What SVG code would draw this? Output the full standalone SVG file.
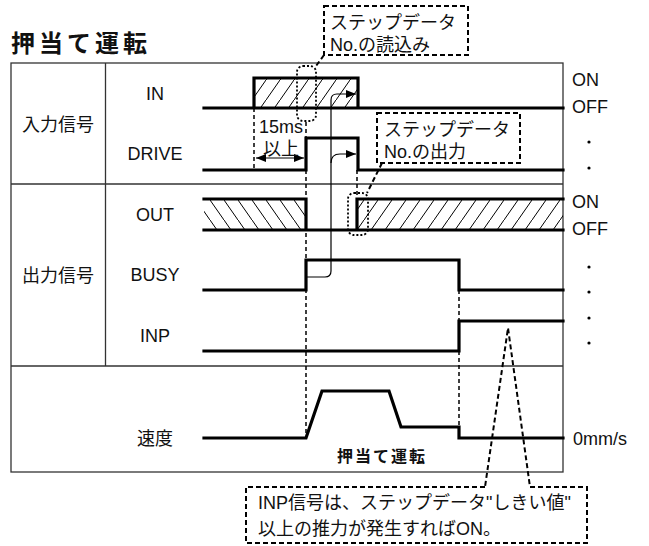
<svg xmlns="http://www.w3.org/2000/svg" width="649" height="546" viewBox="0 0 649 546">
<style>
text{font-family:"Liberation Sans","Noto Sans CJK JP",sans-serif;font-size:18px;fill:#111}
.c{text-anchor:middle}
.frame{fill:none;stroke:#333;stroke-width:1.3}
.sig{fill:none;stroke:#000;stroke-width:3.2;stroke-linejoin:miter;stroke-linecap:square}
.dash{fill:none;stroke:#000;stroke-width:1.5;stroke-dasharray:4 3}
.dot{fill:none;stroke:#000;stroke-width:1.8;stroke-dasharray:2 2}
.box{fill:none;stroke:#000;stroke-width:2;stroke-dasharray:5 3}
.thin{fill:none;stroke:#000;stroke-width:1.2}
</style>
<defs>
<pattern id="hf" patternUnits="userSpaceOnUse" width="14" height="20"><path d="M-7,30 L21,-10" stroke="#000" stroke-width="1"/></pattern>
<pattern id="hb" patternUnits="userSpaceOnUse" width="14" height="20"><path d="M-7,-10 L21,30" stroke="#000" stroke-width="1"/></pattern>
<marker id="ah" viewBox="0 0 10 8" refX="10" refY="4" markerWidth="10" markerHeight="8" markerUnits="userSpaceOnUse" orient="auto"><path d="M0,0 L10,4 L0,8 Z" fill="#000"/></marker>
<marker id="ahs" viewBox="0 0 10 8" refX="0" refY="4" markerWidth="10" markerHeight="8" markerUnits="userSpaceOnUse" orient="auto"><path d="M10,0 L0,4 L10,8 Z" fill="#000"/></marker>
</defs>
<rect width="649" height="546" fill="#fff"/>
<text x="11" y="52" style="font-size:24px;font-weight:bold;letter-spacing:4px">押当て運転</text>
<g id="frame">
<rect class="frame" x="11" y="63" width="552" height="409"/>
<line class="frame" x1="105.5" y1="63" x2="105.5" y2="366"/>
<line class="frame" x1="11" y1="184" x2="563" y2="184"/>
<line class="frame" x1="11" y1="366" x2="563" y2="366"/>
</g>
<g id="row-labels">
<text x="58" y="131" class="c">入力信号</text>
<text x="58" y="282" class="c">出力信号</text>
<text x="155" y="100" class="c">IN</text>
<text x="155" y="160" class="c">DRIVE</text>
<text x="155" y="221" class="c">OUT</text>
<text x="155" y="281" class="c">BUSY</text>
<text x="155" y="342" class="c">INP</text>
<text x="155" y="445" class="c">速度</text>
</g>
<g id="right-labels">
<text x="572" y="86">ON</text>
<text x="572" y="113">OFF</text>
<text x="572" y="208">ON</text>
<text x="572" y="235">OFF</text>
<text x="573" y="445">0mm/s</text>
<circle cx="589" cy="142" r="1.6"/>
<circle cx="589" cy="168" r="1.6"/>
<circle cx="589" cy="267" r="1.6"/>
<circle cx="589" cy="292" r="1.6"/>
<circle cx="589" cy="318" r="1.6"/>
<circle cx="589" cy="343" r="1.6"/>
</g>
<g id="sig-IN">
<rect x="254" y="78" width="104" height="30" fill="url(#hf)"/>
<path class="sig" d="M204,108 H563 M254,108 V78 H358 V108"/>
</g>
<g id="sig-DRIVE">
<path class="sig" d="M204,170 H306 V138 H358 V170 H563"/>
</g>
<g id="sig-OUT">
<rect x="204" y="199" width="102" height="31" fill="url(#hb)"/>
<rect x="357" y="199" width="206" height="31" fill="url(#hf)"/>
<path class="sig" d="M204,230 H563 M204,199 H306 V230 M357,230 V199 H563"/>
</g>
<g id="sig-BUSY">
<path class="sig" d="M204,290 H306 V260 H459 V290 H563"/>
</g>
<g id="sig-INP">
<path class="sig" d="M204,351 H459 V321 H563"/>
</g>
<g id="sig-speed">
<path class="sig" d="M204,438 H306 L322,391 H389 L401,427 H459 V438 H563"/>
<text x="382" y="462" class="c" style="font-size:16px;font-weight:bold;letter-spacing:2px">押当て運転</text>
</g>
<g id="connectors">
<path class="dash" d="M254,108 V170 M306,122 V138 M306,170 V438 M357,170 V199 M459,290 V321 M459,351 V427"/>
<rect class="dot" x="297" y="66" width="19" height="55" rx="6"/>
<rect class="dot" x="348" y="193" width="20" height="42" rx="6"/>
<path class="thin" d="M307,277 H325 Q331,277 331,271 V100 Q331,94 337,94 H356" marker-end="url(#ah)"/>
<path class="thin" d="M331,163 Q331,154 340,154 H356" marker-end="url(#ah)"/>
<path class="thin" d="M256,158 H304" marker-start="url(#ahs)" marker-end="url(#ah)"/>
</g>
<g id="interval-label">
<text x="259" y="133">15ms</text>
<text x="263" y="155">以上</text>
</g>
<g id="callout-read">
<rect class="box" x="324" y="6" width="144" height="49"/>
<path class="box" d="M324,55 L316,66"/>
<text x="330" y="29">ステップデータ</text>
<text x="330" y="51">No.の読込み</text>
</g>
<g id="callout-output">
<rect class="box" x="377" y="113" width="143" height="50"/>
<path class="box" d="M382,163 L367,193"/>
<text x="384" y="136">ステップデータ</text>
<text x="384" y="158">No.の出力</text>
</g>
<g id="callout-inp">
<path class="box" d="M485,487 H246 V543 H587 V487 H530 L508,328 L485,487"/>
<text x="258" y="509">INP信号は、ステップデータ"しきい値"</text>
<text x="258" y="535">以上の推力が発生すればON。</text>
</g>
</svg>
